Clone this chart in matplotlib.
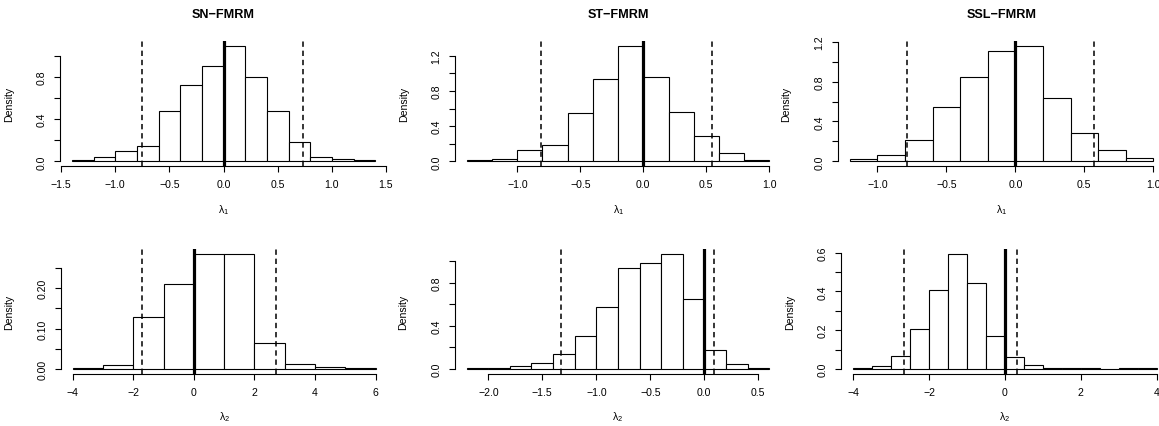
import numpy as np
import matplotlib
matplotlib.use("Agg")
import matplotlib.pyplot as plt

plt.rcParams["font.family"] = ["Liberation Sans", "DejaVu Sans"]
plt.rcParams["mathtext.fontset"] = "custom"
plt.rcParams["mathtext.rm"] = "Liberation Sans"
plt.rcParams["mathtext.it"] = "Liberation Sans"

# SN-FMRM, lambda_1
sn_l1_breaks = [-1.4, -1.2, -1.0, -0.8, -0.6, -0.4, -0.2, 0.0, 0.2, 0.4, 0.6, 0.8, 1.0, 1.2, 1.4]
sn_l1_density = [0.016, 0.041, 0.10, 0.142, 0.476, 0.725, 0.898, 1.094, 0.798, 0.476, 0.183, 0.038, 0.025, 0.013]
sn_l1_ci = [-0.755, 0.733]

# ST-FMRM, lambda_1
st_l1_breaks = [-1.4, -1.2, -1.0, -0.8, -0.6, -0.4, -0.2, 0.0, 0.2, 0.4, 0.6, 0.8, 1.0]
st_l1_density = [0.011, 0.023, 0.125, 0.182, 0.545, 0.939, 1.314, 0.958, 0.561, 0.284, 0.091, 0.015]
st_l1_ci = [-0.812, 0.542]

# SSL-FMRM, lambda_1
ssl_l1_breaks = [-1.2, -1.0, -0.8, -0.6, -0.4, -0.2, 0.0, 0.2, 0.4, 0.6, 0.8, 1.0]
ssl_l1_density = [0.027, 0.06, 0.217, 0.545, 0.849, 1.107, 1.160, 0.632, 0.281, 0.117, 0.037]
ssl_l1_ci = [-0.783, 0.570]

# SN-FMRM, lambda_2
sn_l2_breaks = [-4, -3, -2, -1, 0, 1, 2, 3, 4, 5, 6]
sn_l2_density = [0.0016, 0.0107, 0.1276, 0.209, 0.284, 0.285, 0.065, 0.013, 0.004, 0.0016]
sn_l2_ci = [-1.723, 2.711]

# ST-FMRM, lambda_2
st_l2_breaks = [-2.2, -2.0, -1.8, -1.6, -1.4, -1.2, -1.0, -0.8, -0.6, -0.4, -0.2, 0.0, 0.2, 0.4, 0.6]
st_l2_density = [0.006, 0.012, 0.025, 0.053, 0.14, 0.304, 0.58, 0.94, 0.989, 1.073, 0.654, 0.18, 0.043, 0.006]
st_l2_ci = [-1.330, 0.086]

# SSL-FMRM, lambda_2
ssl_l2_breaks = [-4.0, -3.5, -3.0, -2.5, -2.0, -1.5, -1.0, -0.5, 0.0, 0.5, 1.0, 1.5, 2.0, 2.5, 3.0, 3.5, 4.0]
ssl_l2_density = [0.003, 0.014, 0.065, 0.206, 0.409, 0.595, 0.442, 0.170, 0.060, 0.022, 0.004, 0.006, 0.003, 0.001, 0.003, 0.003]
ssl_l2_ci = [-2.655, 0.308]

# axis ticks and labels
l1_xticks_a = [-1.5, -1.0, -0.5, 0.0, 0.5, 1.0, 1.5]
l1_xlabels_a = ["\u22121.5", "\u22121.0", "\u22120.5", "0.0", "0.5", "1.0", "1.5"]
l1_xticks_b = [-1.0, -0.5, 0.0, 0.5, 1.0]
l1_xlabels_b = ["\u22121.0", "\u22120.5", "0.0", "0.5", "1.0"]
sn_l2_xticks = [-4, -2, 0, 2, 4, 6]
sn_l2_xlabels = ["\u22124", "\u22122", "0", "2", "4", "6"]
st_l2_xticks = [-2.0, -1.5, -1.0, -0.5, 0.0, 0.5]
st_l2_xlabels = ["\u22122.0", "\u22121.5", "\u22121.0", "\u22120.5", "0.0", "0.5"]
ssl_l2_xticks = [-4, -2, 0, 2, 4]
ssl_l2_xlabels = ["\u22124", "\u22122", "0", "2", "4"]

yticks_10 = [0.0, 0.2, 0.4, 0.6, 0.8, 1.0]
ylabels_10 = ["0.0", "", "0.4", "", "0.8", ""]
yticks_12 = [0.0, 0.2, 0.4, 0.6, 0.8, 1.0, 1.2]
ylabels_12 = ["0.0", "", "0.4", "", "0.8", "", "1.2"]
yticks_025 = [0.00, 0.05, 0.10, 0.15, 0.20, 0.25]
ylabels_025 = ["0.00", "", "0.10", "", "0.20", ""]
yticks_06 = [0.0, 0.1, 0.2, 0.3, 0.4, 0.5, 0.6]
ylabels_06 = ["0.0", "", "0.2", "", "0.4", "", "0.6"]

titles = ["SN\u2212FMRM", "ST\u2212FMRM", "SSL\u2212FMRM"]

panels = [
    (sn_l1_breaks, sn_l1_density, sn_l1_ci, l1_xticks_a, l1_xlabels_a, yticks_10, ylabels_10, r"$\lambda_1$"),
    (st_l1_breaks, st_l1_density, st_l1_ci, l1_xticks_b, l1_xlabels_b, yticks_12, ylabels_12, r"$\lambda_1$"),
    (ssl_l1_breaks, ssl_l1_density, ssl_l1_ci, l1_xticks_b, l1_xlabels_b, yticks_12, ylabels_12, r"$\lambda_1$"),
    (sn_l2_breaks, sn_l2_density, sn_l2_ci, sn_l2_xticks, sn_l2_xlabels, yticks_025, ylabels_025, r"$\lambda_2$"),
    (st_l2_breaks, st_l2_density, st_l2_ci, st_l2_xticks, st_l2_xlabels, yticks_10, ylabels_10, r"$\lambda_2$"),
    (ssl_l2_breaks, ssl_l2_density, ssl_l2_ci, ssl_l2_xticks, ssl_l2_xlabels, yticks_06, ylabels_06, r"$\lambda_2$"),
]

# plot regions in pixels: left, top, right, bottom
W, H = 1159, 427
boxes = [
    (59.7, 42, 387.3, 167),
    (454.8, 42, 781.4, 167),
    (837.6, 42, 1165.5, 167),
    (60.6, 250, 387.8, 374.6),
    (454.6, 250, 781.2, 374.6),
    (841.2, 250, 1168.8, 374.6),
]

fig = plt.figure(figsize=(W / 100, H / 100), dpi=100)

for i, (brk, dens, ci, xt, xl, yt, yl, xlab) in enumerate(panels):
    x0, y0, x1, y1 = boxes[i]
    ax = fig.add_axes([x0 / W, 1 - y1 / H, (x1 - x0) / W, (y1 - y0) / H])
    ax.patch.set_alpha(0)

    brk = np.array(brk)
    ax.bar(brk[:-1], dens, width=np.diff(brk), align="edge",
           facecolor="white", edgecolor="black", linewidth=0.8)
    ax.axvline(0, color="black", linewidth=2.3)
    for q in ci:
        ax.axvline(q, color="black", linewidth=1.1, linestyle=(0, (3.5, 2.5)))

    lo, hi = brk[0], brk[-1]
    ax.set_xlim(lo - 0.04 * (hi - lo), hi + 0.04 * (hi - lo))
    top = max(dens)
    ax.set_ylim(-0.04 * top, 1.04 * top)

    for s in ["top", "right"]:
        ax.spines[s].set_visible(False)
    ax.spines["left"].set_bounds(yt[0], yt[-1])
    ax.spines["bottom"].set_bounds(xt[0], xt[-1])
    ax.spines["left"].set_linewidth(0.8)
    ax.spines["bottom"].set_linewidth(0.8)

    ax.set_xticks(xt)
    ax.set_xticklabels(xl)
    ax.set_yticks(yt)
    ax.set_yticklabels(yl, rotation=90, va="center")
    ax.tick_params(direction="out", length=4.5, width=0.8, labelsize=7.6, pad=5)

    ax.set_ylabel("Density", fontsize=7.6)
    ax.yaxis.set_label_coords(-46 / (x1 - x0), 0.5)
    ax.set_xlabel(xlab, fontsize=7.6)
    ax.xaxis.set_label_coords(0.5, -43 / (y1 - y0))
    ax.xaxis.label.set_va("center")

    if i < 3:
        ax.text(0.5, 1 + 27 / (y1 - y0), titles[i], transform=ax.transAxes,
                ha="center", va="center", fontsize=9.1, fontweight="bold")

fig.savefig("out.png", dpi=100)
